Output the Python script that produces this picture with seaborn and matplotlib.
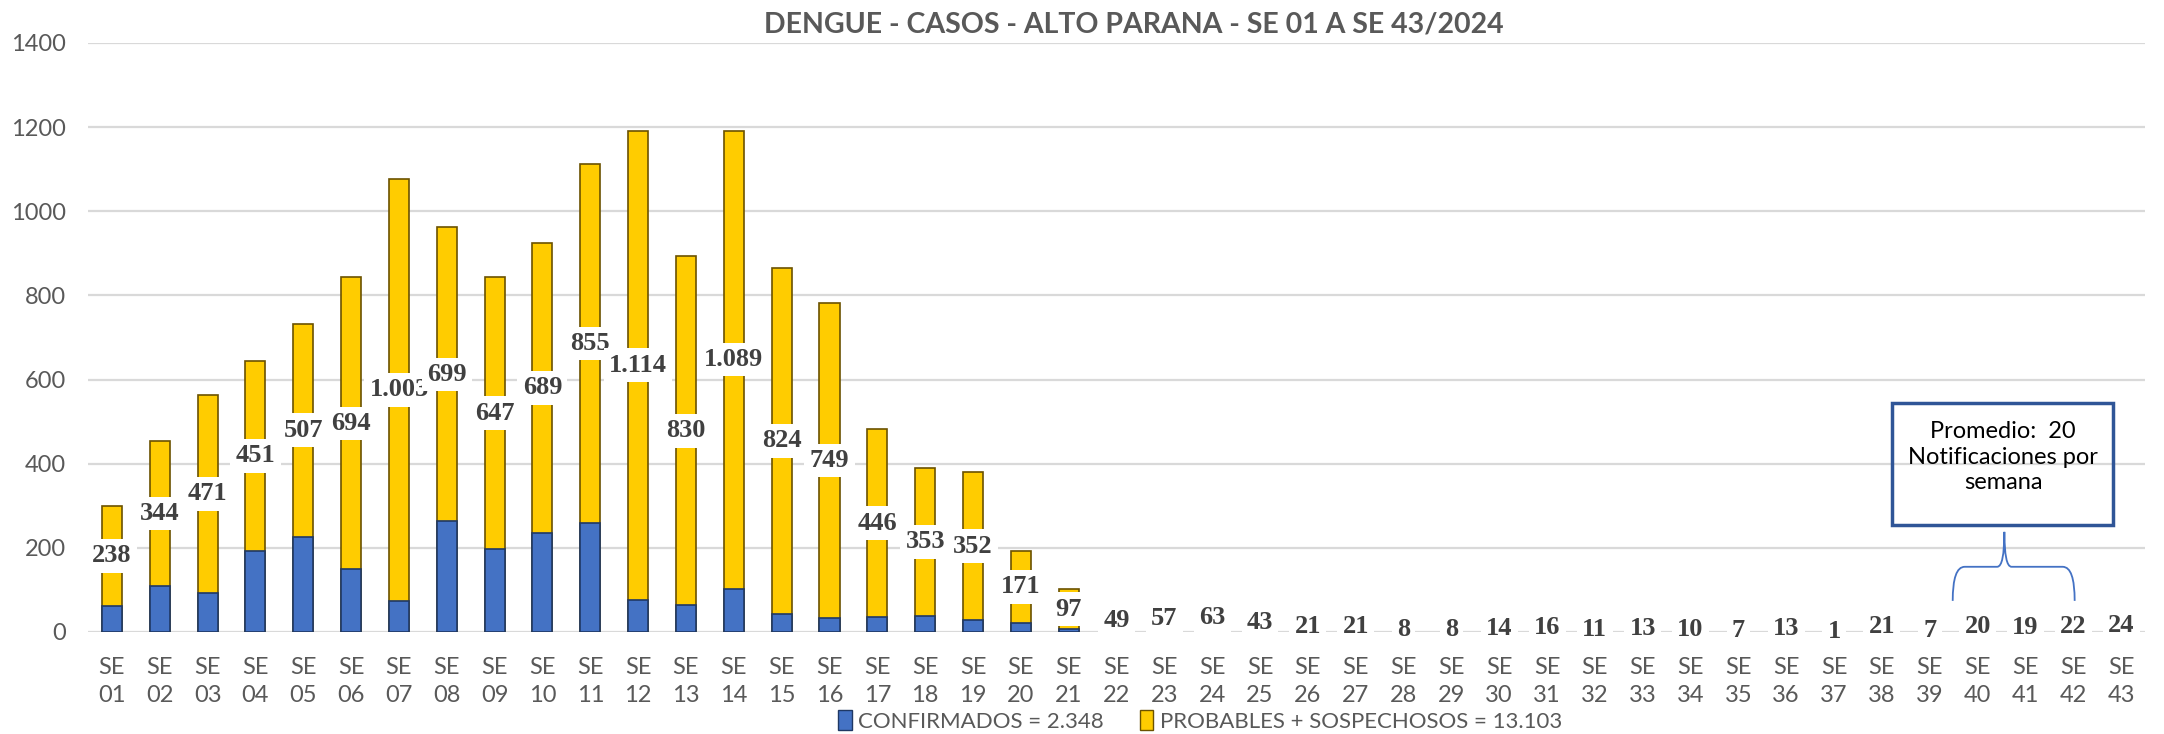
import matplotlib
matplotlib.use("Agg")
import matplotlib.pyplot as plt
import pandas as pd
import seaborn as sns
from matplotlib.patches import Patch, Rectangle, PathPatch
from matplotlib.path import Path

# Data
weeks = ["01", "02", "03", "04", "05", "06", "07", "08", "09", "10", "11",
         "12", "13", "14", "15", "16", "17", "18", "19", "20", "21", "22",
         "23", "24", "25", "26", "27", "28", "29", "30", "31", "32", "33",
         "34", "35", "36", "37", "38", "39", "40", "41", "42", "43"]
confirmados = [62, 110, 93, 193, 226, 149, 74, 263, 197, 236, 258, 77, 63,
               103, 42, 33, 36, 38, 28, 22, 6, 4, 3, 3, 2, 2, 2, 1, 1, 1, 2,
               1, 2, 1, 1, 2, 0, 2, 1, 2, 1, 2, 3]
probables = [238, 344, 471, 451, 507, 694, 1003, 699, 647, 689, 855, 1114,
             830, 1089, 824, 749, 446, 353, 352, 171, 97, 49, 57, 63, 43, 21,
             21, 8, 8, 14, 16, 11, 13, 10, 7, 13, 1, 21, 7, 20, 19, 22, 24]
legend_labels = ["CONFIRMADOS = 2.348", "PROBABLES + SOSPECHOSOS = 13.103"]
title = "DENGUE - CASOS - ALTO PARANA - SE 01 A SE 43/2024"
note = "Promedio:  20\nNotificaciones por\nsemana"

sns.set_style("white")
plt.rcParams['font.family'] = ['Lato', 'DejaVu Sans']

df = pd.DataFrame({
    "week": ["SE\n" + w for w in weeks],
    "conf": confirmados,
    "prob": probables,
})
df["total"] = df["conf"] + df["prob"]

blue = "#4472C4"
gold = "#FFCC00"
gray = "#595959"

fig = plt.figure(figsize=(21.64, 7.34), dpi=100)
ax = fig.add_axes([88 / 2164, 1 - 632 / 734, (2145 - 88) / 2164, (632 - 43) / 734])

sns.barplot(data=df, x="week", y="total", color=gold, width=0.42, ax=ax,
            saturation=1, edgecolor="#6b5200", linewidth=1.2, zorder=2)
sns.barplot(data=df, x="week", y="conf", color=blue, width=0.42, ax=ax,
            saturation=1, edgecolor="#1f3864", linewidth=1.2, zorder=3)

ax.set_ylim(0, 1400)
ax.set_xlim(-0.5, len(weeks) - 0.5)
ax.set_yticks(range(0, 1401, 200))
ax.yaxis.grid(True, color="#d9d9d9", linewidth=1.6, zorder=0)
ax.set_axisbelow(True)
for s in ax.spines.values():
    s.set_visible(False)
ax.set_xlabel("")
ax.set_ylabel("")
ax.tick_params(axis="both", length=0, colors=gray, labelsize=17)
ax.tick_params(axis="x", pad=18)
ax.tick_params(axis="y", pad=16)
for t in ax.get_xticklabels():
    t.set_linespacing(1.4)

# data labels: yellow segment value, centred in the segment
for i, (c, p) in enumerate(zip(df["conf"], df["prob"])):
    lab = f"{p:,}".replace(",", ".")
    ax.text(i, c + p / 2, lab, ha="center", va="center", fontsize=19,
            fontweight="bold", family=["Liberation Serif", "DejaVu Serif"],
            color="#404040", zorder=5,
            bbox=dict(boxstyle="square,pad=0.2", fc="white", ec="none"))

fig.text(1134 / 2164, 1 - 25 / 734, title, ha="center", va="center",
         fontsize=20.5, fontweight="bold", color=gray)

handles = [Patch(facecolor=blue, edgecolor="#1f3864"),
           Patch(facecolor=gold, edgecolor="#6b5200")]
fig.legend(handles, legend_labels, loc="center", ncol=2,
           bbox_to_anchor=(1200 / 2164, 1 - 721 / 734), frameon=False,
           fontsize=16, labelcolor=gray, handlelength=0.6, handleheight=1.0,
           handletextpad=0.3, columnspacing=1.6)

# note box
box = Rectangle((1892 / 2164, 1 - 525 / 734), 221 / 2164, 122 / 734,
                transform=fig.transFigure, fill=False, ec="#2F5597", lw=2.5)
fig.patches.append(box)
fig.text(2003 / 2164, 1 - 457 / 734, note, ha="center", va="center",
         fontsize=17, color="black", linespacing=1.25)

# brace under the note (data coords)
bx0, bx1, bxm = 38.48, 41.03, 39.56
y_end, y_h, y_top = 74, 155, 238
verts = [(bx0, y_end), (bx0, y_h), (bx0 + 0.25, y_h),
         (bxm - 0.15, y_h), (bxm, y_h), (bxm, y_top),
         (bxm, y_top), (bxm, y_h), (bxm + 0.15, y_h),
         (bx1 - 0.25, y_h), (bx1, y_h), (bx1, y_end)]
codes = [Path.MOVETO, Path.CURVE3, Path.CURVE3,
         Path.LINETO, Path.CURVE3, Path.CURVE3,
         Path.MOVETO, Path.CURVE3, Path.CURVE3,
         Path.LINETO, Path.CURVE3, Path.CURVE3]
ax.add_patch(PathPatch(Path(verts, codes), fill=False, ec=blue, lw=1.3,
                       zorder=6, clip_on=False))

fig.savefig("out.png", dpi=100)
